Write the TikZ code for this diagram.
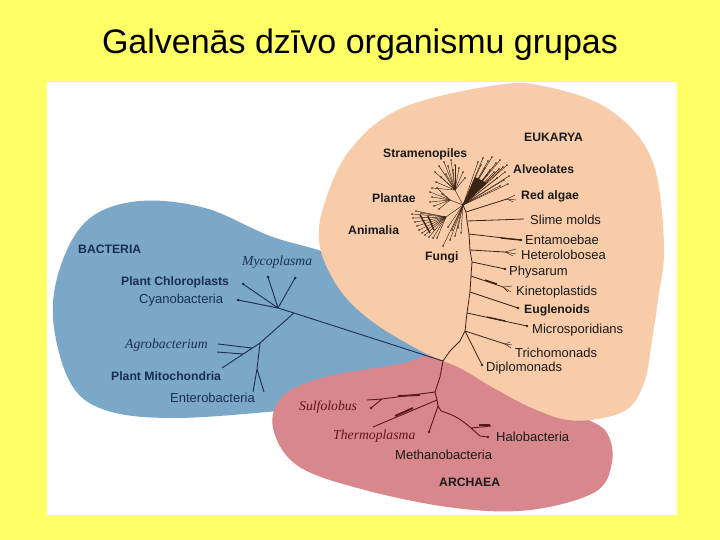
\documentclass[tikz,border=0pt]{standalone}
\usepackage{fontspec}
\setmainfont{Liberation Sans}
\newfontfamily\serifit{Liberation Serif}
\usetikzlibrary{positioning}
\definecolor{slideyellow}{HTML}{FFFF66}
\definecolor{bactblue}{HTML}{7BA8C8}
\definecolor{eukpeach}{HTML}{F9CCA9}
\definecolor{archpink}{HTML}{D8878C}
\definecolor{navy}{HTML}{1B2D52}
\definecolor{bark}{HTML}{3B2414}
\definecolor{maroon}{HTML}{5C171B}
\definecolor{ink}{HTML}{1A1A1A}

\begin{document}
\begin{tikzpicture}[x=1pt,y=-1pt,
	lab/.style={anchor=west,inner sep=0pt,text=ink,font=\fontsize{13}{15}\selectfont},
	blab/.style={lab,font=\fontsize{12.2}{14}\selectfont\bfseries},
	ilab/.style={lab,font=\fontsize{13.7}{15}\selectfont\serifit\itshape},
	btree/.style={navy,line width=0.9pt},
	etree/.style={bark,line width=0.8pt},
	twig/.style={bark,line width=0.45pt},
	atree/.style={maroon,line width=0.9pt}]
	\useasboundingbox (0,0) rectangle (720,540);
	\fill[slideyellow] (0,0) rectangle (720,540);
	\fill[white] (47,82) rectangle (677,515);
	\fill[bactblue] plot[smooth cycle,tension=0.6] coordinates {(53,318) (62,262) (90,218) (140,201) (205,208) (270,236) (345,262) (390,318) (470,372) (390,400) (290,410) (175,418) (105,410) (70,382)};
	\fill[archpink] plot[smooth cycle,tension=0.6] coordinates {(273,428) (283,396) (325,377) (400,364) (455,352) (530,390) (585,418) (607,433) (612,462) (595,492) (530,510) (455,508) (365,490) (298,466)};
	\fill[eukpeach] plot[smooth cycle,tension=0.6] coordinates {(497,85) (548,87) (610,110) (652,160) (664,245) (658,300) (652,340) (645,380) (630,407) (603,418) (568,420) (532,408) (492,387) (460,368) (423,352) (373,322) (340,290) (320,247) (324,205) (350,150) (402,108)};

	\node (title) at (360,45) {\fontsize{34}{40}\selectfont Galvenās dzīvo organismu grupas};

	\coordinate (root) at (443,361);
	\path (450,351) coordinate (t1) (460,341) coordinate (t2) (465,331) coordinate (t3)
		(467,313) coordinate (t4) (470,292) coordinate (t5) (471,276) coordinate (t6)
		(472,262) coordinate (t7) (470,250) coordinate (t8) (469,234) coordinate (t9)
		(467,221) coordinate (t10) (466,212) coordinate (t11) (463,205) coordinate (crown);
	\path (507,199) coordinate (redT) (524,219) coordinate (slimeT) (521,240) coordinate (entamT)
		(505,252) coordinate (heteroT) (505,269) coordinate (physT) (503,287) coordinate (kinetoT)
		(518,308) coordinate (euglT) (527,326) coordinate (microT) (505,344) coordinate (trichoT)
		(482,365) coordinate (diploT) (455,190) coordinate (stramJ) (450,200) coordinate (plantJ)
		(446,217) coordinate (animJ);
	\draw[etree] (root) -- (t1) -- (t2) -- (t3) -- (t4) -- (t5) -- (t6) -- (t7) -- (t8) -- (t9) -- (t10) -- (t11) -- (crown);
	\draw[etree] (t11) -- (redT) (t10) -- (slimeT) (t9) -- (entamT) (t8) -- (heteroT) (t7) -- (physT)
		(t6) -- (kinetoT) (t5) -- (euglT) (t4) -- (microT) (t3) -- (trichoT) (t3) -- (diploT);
	\draw[bark,line width=1.4pt] (t9) ++(32,4) -- (entamT) (t4) ++(20,4) -- ++(18,4) (t6) ++(14,4) -- ++(12,4);
	\foreach \dx/\dy in {8/-4,9/1,6/3} \draw[twig] (redT) -- ++(\dx,\dy);
	\foreach \dx/\dy in {11/-3,11/2,8/4} \draw[twig] (heteroT) -- ++(\dx,\dy);
	\foreach \dx/\dy in {9/-1,8/5,5/5} \draw[twig] (kinetoT) -- ++(\dx,\dy);
	\foreach \dx/\dy in {5/-2,7/1,6/4} \draw[twig] (trichoT) -- ++(\dx,\dy);
	\foreach \c in {entamT,physT,euglT,diploT,microT} \fill[bark] (\c) circle (1.3pt);

	\foreach \dx/\dy in {15/-43,20/-47,25/-44,29/-48,33/-42,37/-45,40/-38,44/-40,42/-33,46/-29,41/-25,45/-21,37/-19,34/-27,27/-35,22/-37,31/-33,36/-36,18/-40,24/-30}{
		\draw[twig] (crown) -- ++(\dx,\dy);
		\fill[bark] (crown) ++(\dx,\dy) circle (0.9pt);}
	\fill[bark] (crown) -- ++(12,-28) -- ++(12,6) -- cycle;
	\draw[twig] (crown) -- (stramJ) (crown) -- (plantJ) (crown) -- (animJ);
	\foreach \dx/\dy in {-20/-18,-16/-24,-11/-28,-7/-24,-4/-30,0/-25,4/-22,8/-18,10/-12,-19/-8,-14/-13,-23/-2,-9/-16,-2/-20}{
		\draw[twig] (stramJ) -- ++(\dx,\dy);
		\fill[bark] (stramJ) ++(\dx,\dy) circle (0.8pt);}
	\foreach \dx/\dy in {-20/-8,-18/-3,-20/2,-16/6,-13/-12,-11/9,-8/-6}{
		\draw[twig] (plantJ) -- ++(\dx,\dy);
		\fill[bark] (plantJ) ++(\dx,\dy) circle (0.8pt);}
	\foreach \dx/\dy in {-34/-3,-33/1,-31/5,-29/9,-27/13,-24/16,-21/18,-17/20,-13/21,-30/-6,-9/21,-25/-4}{
		\draw[twig] (animJ) -- ++(\dx,\dy);
		\fill[bark] (animJ) ++(\dx,\dy) circle (0.8pt);}
	\draw[bark,line width=1.4pt] (animJ) ++(-26,-2) -- ++(10,18) (animJ) ++(-18,-1) -- ++(6,14);
	\foreach \dx/\dy in {-8/31,-13/35,-20/41,-5/23,-11/25,-2/28,-15/22}{
		\draw[twig] (crown) -- ++(\dx,\dy);
		\fill[bark] (crown) ++(\dx,\dy) circle (0.8pt);}

	\path (278,308) coordinate (bA) (238,300) coordinate (cyanoT) (268,277) coordinate (mycoT1)
		(295,278) coordinate (mycoT2) (243,284) coordinate (chloroT) (294,313) coordinate (bB)
		(260,343) coordinate (bC) (222,368) coordinate (mitoT) (252,348) coordinate (agroJ1)
		(218,344) coordinate (agroT1) (243,354) coordinate (agroJ2) (217,352) coordinate (agroT2)
		(257,369) coordinate (bE) (253,392) coordinate (enteroT1) (264,392) coordinate (enteroT2);
	\draw[btree] (root) -- (bB) -- (bA) -- (cyanoT);
	\draw[btree] (bA) -- (mycoT1) (bA) -- (mycoT2) (bA) -- (chloroT);
	\draw[btree] (bB) -- (bC) -- (mitoT) (agroJ1) -- (agroT1) (agroJ2) -- (agroT2)
		(bC) -- (bE) -- (enteroT1) (bE) -- (enteroT2);
	\foreach \c in {cyanoT,mycoT1,mycoT2,chloroT} \fill[navy] (\c) circle (1.5pt);

	\path (440,377) coordinate (a1) (435,392) coordinate (a2) (437,400) coordinate (a3)
		(438,406) coordinate (a4) (441,411) coordinate (a5) (382,399) coordinate (sulfoJ)
		(367,400) coordinate (sulfoT1) (371,408) coordinate (sulfoT2) (373,427) coordinate (thermoT)
		(429,432) coordinate (methT) (471,428) coordinate (haloJ) (491,426) coordinate (haloT1)
		(480,436) coordinate (haloT2) (488,437) coordinate (haloT3);
	\draw[atree] (root) -- (a1) -- (a2) -- (a3) -- (a4) -- (a5);
	\draw[atree] (a2) -- (sulfoJ) -- (sulfoT1) (sulfoJ) -- (sulfoT2) (a3) -- (thermoT) (a4) -- (methT)
		(a5) to[bend left=12] (haloJ) (haloJ) -- (haloT1) (haloJ) -- (haloT2) -- (haloT3);
	\draw[maroon,line width=1.8pt] (sulfoJ) ++(16,-3) -- ++(22,-1) (thermoT) ++(22,-11) -- ++(18,-8) (haloJ) ++(8,-3) -- ++(11,0);
	\foreach \c in {sulfoT2,methT,haloT3} \fill[maroon] (\c) circle (1.3pt);

	\node[blab] (eukarya) at (524,137) {EUKARYA};
	\node[blab] (stram) at (383,154) {Stramenopiles};
	\node[blab] (alveo) at (513,169) {Alveolates};
	\node[blab] (plantae) at (372,198) {Plantae};
	\node[blab] (redalg) at (521,196) {Red algae};
	\node[blab] (anim) at (348,230) {Animalia};
	\node[lab] (slime) at (530,220) {Slime molds};
	\node[blab] (fungi) at (425,257) {Fungi};
	\node[lab] (entam) at (525,240) {Entamoebae};
	\node[lab] (hetero) at (521,255) {Heterolobosea};
	\node[lab] (physar) at (509,272) {Physarum};
	\node[lab] (kineto) at (516,292) {Kinetoplastids};
	\node[blab] (eugl) at (524,310) {Euglenoids};
	\node[lab] (micro) at (532,330) {Microsporidians};
	\node[lab] (tricho) at (515,353) {Trichomonads};
	\node[lab] (diplo) at (486,368) {Diplomonads};

	\node[blab,text=navy] (bacteria) at (78,249) {BACTERIA};
	\node[ilab,text=navy] (myco) at (242,262) {Mycoplasma};
	\node[blab,text=navy] (chloro) at (121,282) {Plant Chloroplasts};
	\node[lab,text=navy] (cyano) at (139,300) {Cyanobacteria};
	\node[ilab,text=navy] (agro) at (125,345) {Agrobacterium};
	\node[blab,text=navy] (mito) at (111,376) {Plant Mitochondria};
	\node[lab,text=navy] (entero) at (170,398) {Enterobacteria};

	\node[ilab,text=maroon] (sulfo) at (299,407) {Sulfolobus};
	\node[ilab,text=maroon] (thermo) at (333,436) {Thermoplasma};
	\node[lab] (halo) at (496,437) {Halobacteria};
	\node[lab] (methano) at (395,455) {Methanobacteria};
	\node[blab] (archaea) at (439,482) {ARCHAEA};
\end{tikzpicture}
\end{document}
